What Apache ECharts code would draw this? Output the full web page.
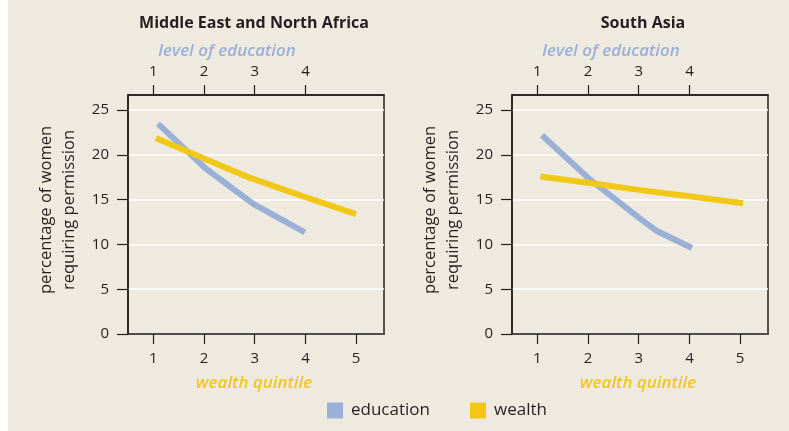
<!DOCTYPE html>
<html><head><meta charset="utf-8">
<script src="https://cdn.jsdelivr.net/npm/echarts@6/dist/echarts.min.js"></script>
<style>
html,body{margin:0;padding:0;background:#fff;}
#c{width:789px;height:431px;background:linear-gradient(to right,#ffffff 8px,#eeeae0 8px);}
</style></head>
<body><div id="c"></div>
<script>
// Data
const panelTitles = ["Middle East and North Africa", "South Asia"];
const wealthTicks = [1, 2, 3, 4, 5];
const eduTicks = [1, 2, 3, 4];
const yTicks = [0, 5, 10, 15, 20, 25];
const menaEduX = [1.09, 2.03, 2.98, 3.99];
const menaEduY = [23.5, 18.5, 14.5, 11.35];
const menaWealthX = [1.05, 2, 2.88, 4, 5];
const menaWealthY = [21.9, 19.6, 17.5, 15.3, 13.4];
const saEduX = [1.09, 2.01, 3.0, 3.36, 4.05];
const saEduY = [22.2, 17.4, 13.0, 11.5, 9.6];
const saWealthX = [1.06, 2, 3, 4, 5.06];
const saWealthY = [17.6, 16.9, 16.1, 15.4, 14.6];

const zip = (xs, ys) => xs.map((x, i) => [x, ys[i]]);
const BLUE = '#9bb0d6', YELLOW = '#f1c817', INK = '#231f20';
const FONT = 'Open Sans';

const grids = [
  {left: 128, right: 405, top: 95, bottom: 97},
  {left: 512, right: 21, top: 95, bottom: 97}
];

const xAxes = [], yAxes = [], series = [];
[0, 1].forEach(g => {
  xAxes.push({
    gridIndex: g, type: 'value', position: 'bottom', min: 0.5, max: 5.55,
    name: 'wealth quintile', nameLocation: 'middle', nameGap: 41,
    nameTextStyle: {color: YELLOW, fontStyle: 'italic', fontWeight: 600, fontSize: 17, fontFamily: FONT, padding: [0, 4, 0, 0]},
    axisLine: {show: true, lineStyle: {color: INK, width: 1.5}},
    axisTick: {show: true, inside: false, length: 10, lineStyle: {color: INK, width: 1.2}, customValues: wealthTicks},
    axisLabel: {show: true, color: INK, fontSize: 15, fontFamily: FONT, margin: 17, customValues: wealthTicks},
    splitLine: {show: false}
  });
  xAxes.push({
    gridIndex: g, type: 'value', position: 'top', min: 0.5, max: 5.55,
    axisLine: {show: true, lineStyle: {color: INK, width: 1.5}},
    axisTick: {show: true, inside: false, length: 10, lineStyle: {color: INK, width: 1.2}, customValues: eduTicks},
    axisLabel: {show: true, color: INK, fontSize: 15, fontFamily: FONT, margin: 16, customValues: eduTicks},
    splitLine: {show: false}
  });
  yAxes.push({
    gridIndex: g, type: 'value', min: 0, max: 26.7,
    name: 'percentage of women\nrequiring permission', nameLocation: 'middle', nameGap: 47, nameRotate: 90,
    nameTextStyle: {color: INK, fontSize: 16.5, fontFamily: FONT, lineHeight: 23, align: 'center', padding: [0, 0, 0, 9]},
    axisLine: {show: true, lineStyle: {color: INK, width: 1.5}},
    axisTick: {show: true, inside: false, length: 11, lineStyle: {color: INK, width: 1.2}, customValues: yTicks},
    axisLabel: {show: true, color: INK, fontSize: 15, fontFamily: FONT, margin: 19, customValues: yTicks},
    splitLine: {show: true, lineStyle: {color: '#ffffff', width: 1.5}}
  });
});

const lineStyle = c => ({color: c, width: 6, cap: 'butt', join: 'miter'});
series.push(
  {name: 'education', type: 'line', xAxisIndex: 1, yAxisIndex: 0, data: zip(menaEduX, menaEduY), symbol: 'none', lineStyle: lineStyle(BLUE), itemStyle: {color: BLUE}, z: 3},
  {name: 'wealth', type: 'line', xAxisIndex: 0, yAxisIndex: 0, data: zip(menaWealthX, menaWealthY), symbol: 'none', lineStyle: lineStyle(YELLOW), itemStyle: {color: YELLOW}, z: 4},
  {name: 'education', type: 'line', xAxisIndex: 3, yAxisIndex: 1, data: zip(saEduX, saEduY), symbol: 'none', lineStyle: lineStyle(BLUE), itemStyle: {color: BLUE}, z: 3},
  {name: 'wealth', type: 'line', xAxisIndex: 2, yAxisIndex: 1, data: zip(saWealthX, saWealthY), symbol: 'none', lineStyle: lineStyle(YELLOW), itemStyle: {color: YELLOW}, z: 4}
);

const titleStyle = {color: INK, fontSize: 16, fontWeight: 'bold', fontFamily: FONT};
const eduNameStyle = {color: BLUE, fontSize: 17, fontWeight: 600, fontStyle: 'italic', fontFamily: FONT};

const option = {
  animation: false,
  backgroundColor: 'transparent',
  title: [
    {text: panelTitles[0], left: 254, top: 15, padding: 0, textAlign: 'center', textStyle: titleStyle},
    {text: panelTitles[1], left: 643, top: 15, padding: 0, textAlign: 'center', textStyle: titleStyle},
    {text: 'level of education', left: 227, top: 43, padding: 0, textAlign: 'center', textStyle: eduNameStyle},
    {text: 'level of education', left: 611, top: 43, padding: 0, textAlign: 'center', textStyle: eduNameStyle}
  ],
  legend: {
    left: 327, top: 402, padding: 0, itemWidth: 16, itemHeight: 16, itemGap: 40, icon: 'rect',
    data: ['education', 'wealth'],
    textStyle: {color: INK, fontSize: 17, fontFamily: FONT, padding: [0, 0, 0, 3]}
  },
  grid: grids.map(g => Object.assign({show: true, borderColor: INK, borderWidth: 1.5, backgroundColor: 'transparent'}, g)),
  xAxis: xAxes,
  yAxis: yAxes,
  series: series
};
const chart = echarts.init(document.getElementById('c'), null, {renderer: 'canvas'});
chart.setOption(option);
</script></body></html>
